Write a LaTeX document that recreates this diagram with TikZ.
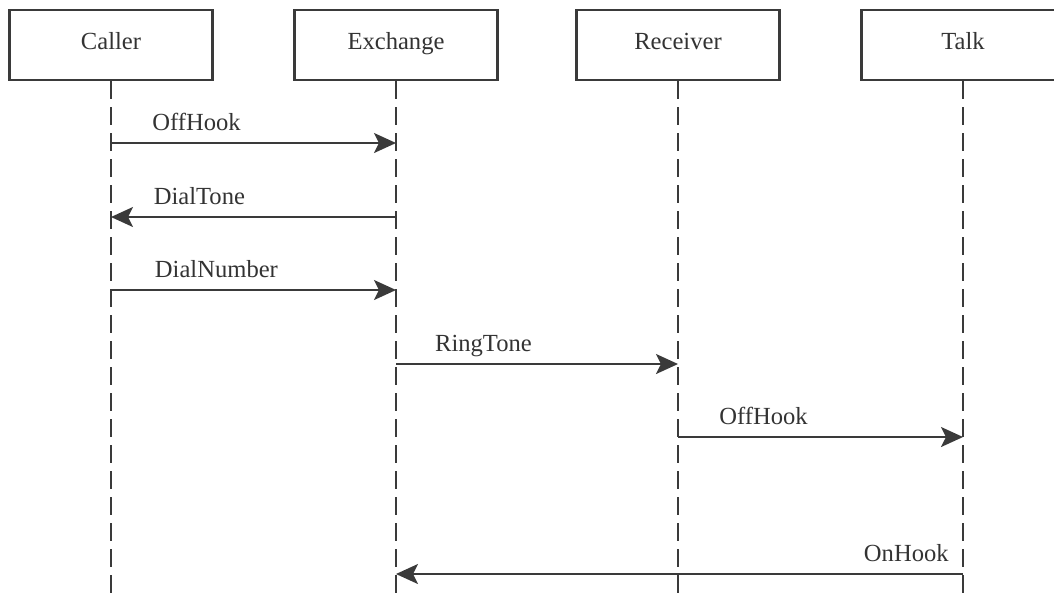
\documentclass[tikz,border=0pt]{standalone}
\usepackage{fontspec}
\setmainfont{Liberation Serif}
\usetikzlibrary{arrows.meta,positioning,calc}
\definecolor{sqink}{HTML}{333333}
\definecolor{sqline}{HTML}{3A3A3A}

\begin{document}
\begin{tikzpicture}[
        x=0.02cm, y=-0.02cm,
        font=\fontsize{14}{16}\selectfont,
        actor/.style={draw=sqline, line width=1.3pt, minimum width=4.06cm,
                      minimum height=1.4cm, text=sqink, text height=1.7ex,
                      text depth=0.5ex},
        life/.style={sqline, line width=1pt, dash pattern=on 0.36cm off 0.16cm},
        msg/.style={-{Stealth[length=4.4mm, width=4mm, inset=1mm]}, sqline,
                    line width=1.2pt},
        lbl/.style={text=sqink, inner sep=0pt, anchor=base, yshift=7pt}
    ]
        \useasboundingbox (0,0) rectangle (1054,600);
        \node[actor] (caller) at (111,45) {Caller};
        \node[actor] (exchange) at (396,45) {Exchange};
        \node[actor] (receiver) at (678,45) {Receiver};
        \node[actor] (talk) at (963,45) {Talk};

        \coordinate (bottom) at (0,600);
        \foreach \n in {caller,exchange,receiver,talk}
            \draw[life] (\n.south) -- (\n |- bottom);

        \coordinate (m1) at (0,143);
        \coordinate (m2) at (0,217);
        \coordinate (m3) at (0,290);
        \coordinate (m4) at (0,364);
        \coordinate (m5) at (0,437);
        \coordinate (m6) at (0,574);

        \draw[msg] (caller |- m1) -- node[lbl, pos=0.3] (offhook) {OffHook} (exchange |- m1);
        \draw[msg] (exchange |- m2) -- node[lbl, pos=0.69] (dialtone) {DialTone} (caller |- m2);
        \draw[msg] (caller |- m3) -- node[lbl, pos=0.37] (dialnum) {DialNumber} (exchange |- m3);
        \draw[msg] (exchange |- m4) -- node[lbl, pos=0.31] (ringtone) {RingTone} (receiver |- m4);
        \draw[msg] (receiver |- m5) -- node[lbl, pos=0.3] (offhookb) {OffHook} (talk |- m5);
        \draw[msg] (talk |- m6) -- node[lbl, pos=0.1] (onhook) {OnHook} (exchange |- m6);
    \end{tikzpicture}
\end{document}
